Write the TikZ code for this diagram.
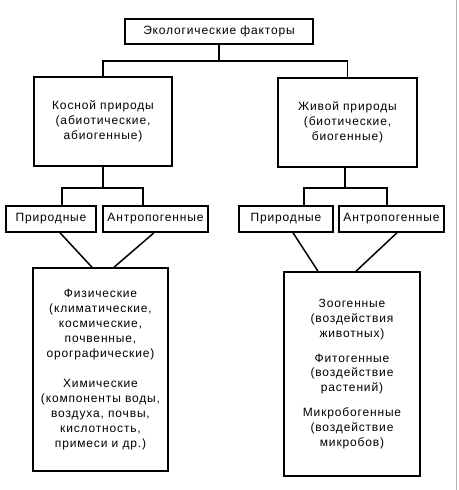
\documentclass[tikz,border=0pt]{standalone}
\usepackage{fontspec}
\setmainfont{Liberation Sans}[LetterSpace=7]
\begin{document}
\begin{tikzpicture}[x=1pt,y=-1pt,
  box/.style={draw,line width=1.5pt,inner sep=0pt,align=center,font=\fontsize{12}{14.8}\selectfont},
  conn/.style={line width=1.5pt}]
\useasboundingbox (0,0) rectangle (458,490);
\draw[gray!60,line width=1pt] (456,0) -- (456,490);
\node[box,minimum width=188,minimum height=25] (top) at (219,31.5) {Экологические факторы};
\node[box,minimum width=138,minimum height=89] (kos) at (103,121.5) {Косной природы\\(абиотические,\\абиогенные)};
\node[box,minimum width=139,minimum height=89] (jiv) at (347.5,122.5) {Живой природы\\(биотические,\\биогенные)};
\node[box,minimum width=90,minimum height=26] (pl) at (51,219) {Природные};
\node[box,minimum width=105,minimum height=26] (al) at (155.5,219) {Антропогенные};
\node[box,minimum width=94,minimum height=26] (pr) at (286,219) {Природные};
\node[box,minimum width=105,minimum height=26] (ar) at (391.5,219) {Антропогенные};
\node[box,minimum width=135,minimum height=203] (fiz) at (100.5,369.5) {Физические\\(климатические,\\космические,\\почвенные,\\орографические)\\[16pt]Химические\\(компоненты воды,\\воздуха, почвы,\\кислотность,\\примеси и др.)};
\node[box,minimum width=136,minimum height=204] (bio) at (352,374) {Зоогенные\\(воздействия\\животных)\\[10pt]Фитогенные\\(воздействие\\растений)\\[10pt]Микробогенные\\(воздействие\\микробов)};
\draw[conn] (top.south) -- ++(0,16) coordinate (t1) -| (kos.north);
\draw[conn] (t1) -| (jiv.north);
\draw[conn] (kos.south) -- ++(0,21) coordinate (k1) -| ([xshift=11pt]pl.north);
\draw[conn] (k1) -| ([xshift=-12.5pt]al.north);
\draw[conn] ([xshift=-2.5pt]jiv.south) -- ++(0,20) coordinate (j1) -| ([xshift=18pt]pr.north);
\draw[conn] (j1) -| ([xshift=-4.5pt]ar.north);
\draw[conn] ([xshift=9pt]pl.south) -- ([xshift=-8.5pt]fiz.north);
\draw[conn] ([xshift=-1.5pt]al.south) -- ([xshift=13.5pt]fiz.north);
\draw[conn] ([xshift=7pt]pr.south) -- ([xshift=-34pt]bio.north);
\draw[conn] ([xshift=5.5pt]ar.south) -- ([xshift=4pt]bio.north);
\end{tikzpicture}
\end{document}
